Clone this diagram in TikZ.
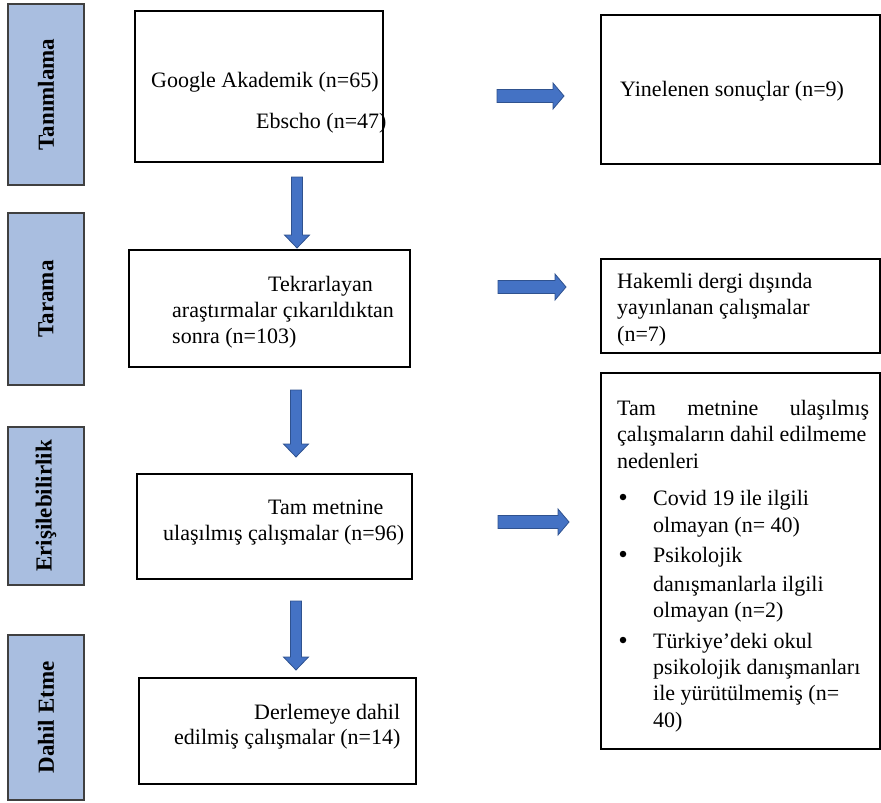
\documentclass[tikz,border=0pt]{standalone}
\usepackage{fontspec}
\setmainfont{Liberation Serif}
\definecolor{sidefill}{HTML}{A9BEE0}
\definecolor{sideline}{HTML}{404040}
\definecolor{arrfill}{HTML}{4472C4}
\definecolor{arrline}{HTML}{2F528F}
\begin{document}
\begin{tikzpicture}[x=1pt,y=-1pt,
  side/.style={draw=sideline, line width=1.3pt, fill=sidefill, inner sep=0pt, rotate=90,
     font=\fontsize{23}{27}\selectfont\bfseries},
  mainbox/.style={draw=black, line width=1.8pt, inner sep=0pt},
  txt/.style={anchor=base west, inner sep=0pt, font=\fontsize{22}{26}\selectfont},
  bulletdot/.style={circle, fill=black, inner sep=0pt, minimum size=6.5pt},
  arrowshape/.style={fill=arrfill, draw=arrline, line width=0.8pt, line join=miter},
  rarr/.pic={\path[arrowshape] (0,-6.5) -- (#1-11,-6.5) -- (#1-11,-13) -- (#1,0) -- (#1-11,13) -- (#1-11,6.5) -- (0,6.5) -- cycle;},
  darr/.pic={\path[arrowshape] (-5.5,0) -- (5.5,0) -- (5.5,#1-13) -- (12.5,#1-13) -- (0,#1) -- (-12.5,#1-13) -- (-5.5,#1-13) -- cycle;}
]
\useasboundingbox (0,0) rectangle (881,803);
% side labels (rotated: minimum width is the vertical extent)
\node[side, minimum width=181pt, minimum height=76pt] (s1) at (46,94.5) {Tanımlama};
\node[side, minimum width=172pt, minimum height=76pt] (s2) at (46,299) {Tarama};
\node[side, minimum width=158pt, minimum height=76pt] (s3) at (46,506) {Erişilebilirlik};
\node[side, minimum width=165pt, minimum height=76pt] (s4) at (46,717.5) {Dahil Etme};
% main boxes
\node[mainbox, minimum width=248pt, minimum height=151pt] (b1) at (259,86.5) {};
\node[mainbox, minimum width=281pt, minimum height=117pt] (b2) at (269.5,308.5) {};
\node[mainbox, minimum width=275pt, minimum height=105pt] (b3) at (274.5,526.5) {};
\node[mainbox, minimum width=277pt, minimum height=106pt] (b4) at (277.5,731) {};
% right boxes
\node[mainbox, minimum width=279pt, minimum height=149pt] (r1) at (740.5,89.5) {};
\node[mainbox, minimum width=279pt, minimum height=94pt] (r2) at (740.5,306) {};
\node[mainbox, minimum width=279pt, minimum height=376pt] (r3) at (740.5,561) {};
% texts
\node[txt] (t1a) at (151,87) {Google Akademik (n=65)};
\node[txt] (t1b) at (256,128) {Ebscho (n=47)};
\node[txt] (tr1) at (620,96) {Yinelenen sonuçlar (n=9)};
\node[txt] (t2a) at (268,291) {Tekrarlayan};
\node[txt] (t2b) at (172,317) {araştırmalar çıkarıldıktan};
\node[txt] (t2c) at (172,343) {sonra (n=103)};
\node[txt] (tr2a) at (617,288) {Hakemli dergi dışında};
\node[txt] (tr2b) at (617,314) {yayınlanan çalışmalar};
\node[txt] (tr2c) at (617,341) {(n=7)};
\node[txt] (t3a) at (268,514) {Tam metnine};
\node[txt] (t3b) at (163,540) {ulaşılmış çalışmalar (n=96)};
\node[txt] (t4a) at (254,719) {Derlemeye dahil};
\node[txt] (t4b) at (174,744) {edilmiş çalışmalar (n=14)};
% right box 3 text
\node[txt] (q1) at (617,415) {\hbox to 252pt{Tam\hfill metnine\hfill ulaşılmış}};
\node[txt] (q2) at (617,441) {çalışmaların dahil edilmeme};
\node[txt] (q3) at (617,468) {nedenleri};
\node[bulletdot] (bl1) at (623,497) {};
\node[txt] (q4) at (653,505) {Covid 19 ile ilgili};
\node[txt] (q5) at (653,532) {olmayan (n= 40)};
\node[bulletdot] (bl2) at (623,554) {};
\node[txt] (q6) at (653,562) {Psikolojik};
\node[txt] (q7) at (653,591) {danışmanlarla ilgili};
\node[txt] (q8) at (653,617) {olmayan (n=2)};
\node[bulletdot] (bl3) at (623,640) {};
\node[txt] (q9) at (653,648) {Türkiye’deki okul};
\node[txt] (q10) at (653,674) {psikolojik danışmanları};
\node[txt] (q11) at (653,700) {ile yürütülmemiş (n=};
\node[txt] (q12) at (653,727) {40)};
% arrows
\pic at (497,96) {rarr=67};
\pic at (498,287) {rarr=68};
\pic at (498,522) {rarr=71};
\pic at (297,177) {darr=71};
\pic at (296,390) {darr=67};
\pic at (296,601) {darr=69};
\end{tikzpicture}
\end{document}
